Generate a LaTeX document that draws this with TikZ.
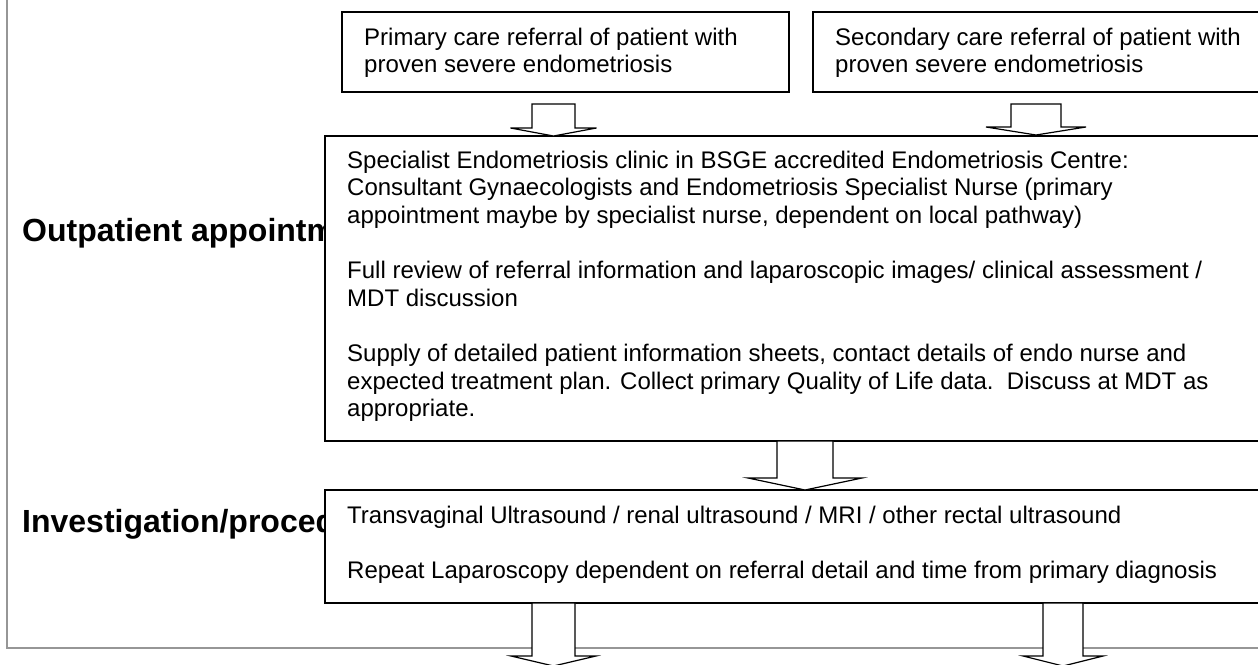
\documentclass[tikz,border=0pt]{standalone}
\usepackage{fontspec}
\setmainfont{Liberation Sans}
\usetikzlibrary{calc}
\definecolor{framegray}{RGB}{150,150,150}
\tikzset{
  boxstyle/.style={draw=black, fill=white, line width=1.2pt, rectangle, inner sep=0pt, outer sep=0pt, anchor=north west},
  txtstyle/.style={inner sep=0pt, anchor=north west, align=left, font=\fontsize{24}{27.6}\selectfont},
  lblstyle/.style={inner sep=0pt, anchor=base west, font=\fontsize{32}{37}\selectfont\bfseries},
  arrowline/.style={draw=black, fill=white, line width=1.2pt, line join=miter},
  framestyle/.style={draw=framegray, line width=1.5pt},
}
% centre x, shaft half width, head half width, top y, wing y, tip y
\newcommand\blkarrow[6]{%
  \draw[arrowline] (#1-#2,#4) -- (#1+#2,#4) -- (#1+#2,#5) -- (#1+#3,#5) -- (#1,#6)
    -- (#1-#3,#5) -- (#1-#2,#5) -- cycle;}
\begin{document}
\begin{tikzpicture}[x=1pt,y=-1pt]
\useasboundingbox (0,0) rectangle (1258,664);
\fill[white] (0,0) rectangle (1258,664);
\clip (0,0) rectangle (1258,664);
% outer grey frame
\draw[framestyle] (7,-20) rectangle (1300,648);
% stage labels
\node[lblstyle] (outlbl) at (22,241) {Outpatient appointment};
\node[lblstyle] (invlbl) at (22,532) {Investigation/procedure};
% boxes
\node[boxstyle, minimum width=447pt, minimum height=80pt] (prim) at (342,12) {};
\node[boxstyle, minimum width=500pt, minimum height=80pt] (sec) at (813,12) {};
\node[boxstyle, minimum width=1000pt, minimum height=305pt] (main) at (325,136) {};
\node[boxstyle, minimum width=1000pt, minimum height=113pt] (inv) at (325,490) {};
% texts
\node[txtstyle] (primtxt) at ($(prim.north west)+(22,9)$) {\rule{0pt}{24pt}Primary care referral of patient with\\proven severe endometriosis};
\node[txtstyle] (sectxt) at ($(sec.north west)+(22,9)$) {\rule{0pt}{24pt}Secondary care referral of patient with\\proven severe endometriosis};
\node[txtstyle] (maintxt) at ($(main.north west)+(22,8)$) {\rule{0pt}{24pt}Specialist Endometriosis clinic in BSGE accredited Endometriosis Centre:\\
Consultant Gynaecologists and Endometriosis Specialist Nurse (primary\\
appointment maybe by specialist nurse, dependent on local pathway)\\[27.6pt]
Full review of referral information and laparoscopic images/ clinical assessment /\\
MDT discussion\\[27.6pt]
Supply of detailed patient information sheets, contact details of endo nurse and\\
expected treatment plan. Collect primary Quality of Life data.\ \ Discuss at MDT as\\
appropriate.};
\node[txtstyle] (invtxt) at ($(inv.north west)+(22,9)$) {\rule{0pt}{24pt}Transvaginal Ultrasound / renal ultrasound / MRI / other rectal ultrasound\\[27.6pt]
Repeat Laparoscopy dependent on referral detail and time from primary diagnosis};
% block arrows
\blkarrow{553.5}{21.5}{43}{104}{128}{136}
\blkarrow{1036}{25}{50}{104}{127}{135}
\blkarrow{805}{28}{57}{441}{478}{490}
\blkarrow{553.5}{21.5}{42.5}{603}{656}{666}
\blkarrow{1063}{20}{40}{603}{656}{666}
\end{tikzpicture}
\end{document}
